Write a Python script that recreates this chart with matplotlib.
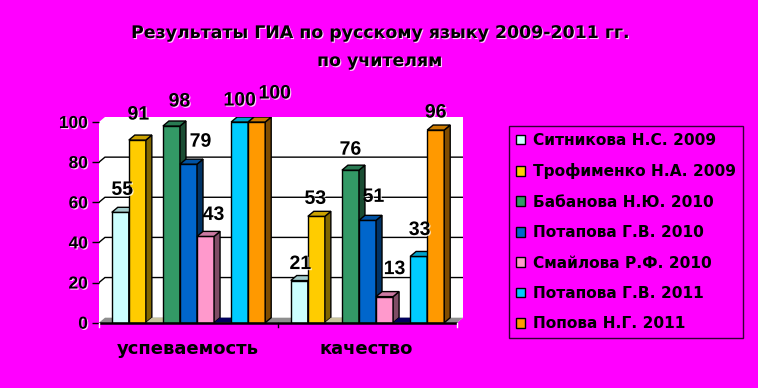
import matplotlib
matplotlib.use("Agg")
import matplotlib.pyplot as plt
from matplotlib.patches import Polygon, Patch
import matplotlib.patheffects as pe

# ---- data -------------------------------------------------------------
categories = ["успеваемость", "качество"]
series_names = [
    "Ситникова Н.С. 2009",
    "Трофименко Н.А. 2009",
    "",                        # spacer series (zero)
    "Бабанова Н.Ю. 2010",
    "Потапова Г.В. 2010",
    "Смайлова Р.Ф. 2010",
    "",                        # spacer series (zero)
    "Потапова Г.В. 2011",
    "Попова Н.Г. 2011",
]
sitnikova_2009 = [55, 21]
trofimenko_2009 = [91, 53]
spacer_a = [0, 0]
babanova_2010 = [98, 76]
potapova_2010 = [79, 51]
smailova_2010 = [43, 13]
spacer_b = [0, 0]
potapova_2011 = [100, 33]
popova_2011 = [100, 96]
y_ticks = [0, 20, 40, 60, 80, 100]

values = [sitnikova_2009, trofimenko_2009, spacer_a, babanova_2010,
          potapova_2010, smailova_2010, spacer_b, potapova_2011, popova_2011]

# ---- styles -----------------------------------------------------------
colors = ["#CCFFFF", "#FFCC00", "#C8C39C", "#339966", "#0066CC",
          "#FF99CC", "#00005E", "#00CCFF", "#FF9900"]
BG = "#FF00FF"
WIDE = "DejaVu Sans"
NUM = "Liberation Sans"

# label offsets in pixels (dx, dy) relative to the top centre of each bar
label_dx = [[2, 1, 0, 8, 12, 8, 0, 0, 18], [1, -1, 0, 0, 6, 10, 0, 1, 0]]
label_dy = [[22, 25, 0, 24, 22, 21, 0, 21, 28], [16, 17, 0, 20, 23, 27, 0, 26, 17]]

n_series = len(values)
gap = 1.5                     # gap between category groups, in bar widths
cat_w = n_series + gap
DX, DY = 0.35, 2.5            # 3-D depth offset (x in bar widths, y in value units)
x_end = cat_w * len(categories)

shadow = [pe.withSimplePatchShadow(offset=(0.8, -0.8), shadow_rgbFace="white", alpha=0.8)]

fig = plt.figure(figsize=(7.58, 3.88), dpi=100, facecolor=BG)
ax = fig.add_axes([99 / 758, 1 - 322.7 / 388, 364 / 758, 205.7 / 388])
ax.set_xlim(0, x_end + DX)
ax.set_ylim(0, 100 + DY)
ax.set_facecolor("none")
for s in ax.spines.values():
    s.set_visible(False)

# back wall (white)
wall = Polygon([(0, 0), (0, 100), (DX, 100 + DY), (x_end + DX, 100 + DY),
                (x_end + DX, DY), (x_end, 0)], closed=True,
               facecolor="white", edgecolor="none", zorder=0)
ax.add_patch(wall)
# floor
floor = Polygon([(0, 0), (x_end, 0), (x_end + DX, DY), (DX, DY)], closed=True,
                facecolor="#8E8E8E", edgecolor="none", zorder=0.5)
ax.add_patch(floor)
# gridlines on the back wall
for v in y_ticks[1:-1]:
    ax.plot([0, DX, x_end + DX], [v, v + DY, v + DY], color="black", lw=1.0, zorder=0.6,
            solid_joinstyle="miter")


def shade(c, f):
    r, g, b = matplotlib.colors.to_rgb(c)
    return (r * f, g * f, b * f)


z = 1
for ci in range(len(categories)):
    for si in range(n_series):
        v = values[si][ci]
        x0 = ci * cat_w + gap / 2 + si
        col = colors[si]
        if v > 0:
            ax.bar(x0, v, width=1.0, align="edge", color=col, edgecolor="black",
                   linewidth=1.0, zorder=z)
            side = Polygon([(x0 + 1, 0), (x0 + 1 + DX, DY), (x0 + 1 + DX, v + DY), (x0 + 1, v)],
                           closed=True, facecolor=shade(col, 0.5), edgecolor="black",
                           linewidth=1.0, zorder=z)
            ax.add_patch(side)
        top = Polygon([(x0, v), (x0 + DX, v + DY), (x0 + 1 + DX, v + DY), (x0 + 1, v)],
                      closed=True, facecolor=shade(col, 0.8) if v > 0 else col,
                      edgecolor="black" if v > 0 else "none", linewidth=1.0, zorder=z)
        ax.add_patch(top)
        z += 1
        if series_names[si]:
            ax.annotate(f"{v}", (x0 + 0.5, v),
                        xytext=(label_dx[ci][si], label_dy[ci][si]),
                        textcoords="offset pixels", ha="center", va="center",
                        fontsize=14, fontweight="bold", family=NUM,
                        color="black", zorder=100, annotation_clip=False,
                        path_effects=shadow)

# front axis line
ax.plot([0, x_end], [0, 0], color="black", lw=1.8, zorder=200, clip_on=False,
        solid_capstyle="butt")
for xt, tc in zip([0, cat_w, x_end], ["white", "black", "white"]):
    ax.plot([xt, xt], [0, -2.2], color=tc, lw=1.0, zorder=200, clip_on=False)

# y axis ticks
ax.set_yticks(y_ticks)
ax.set_yticklabels([str(t) for t in y_ticks])
ax.tick_params(axis="y", length=5, width=1, color="black", pad=3)
for lab in ax.get_yticklabels():
    lab.set_fontsize(12.5)
    lab.set_fontweight("bold")
    lab.set_family(NUM)
    lab.set_path_effects(shadow)
ax.set_xticks([])

# category labels
for ci, name in enumerate(categories):
    ax.annotate(name, (ci * cat_w + cat_w / 2 - 0.05, 0), xytext=(0, -26),
                textcoords="offset pixels", ha="center", va="center",
                fontsize=13, fontweight="bold", family=WIDE,
                annotation_clip=False)

# title
fig.text(381 / 758, 1 - 33 / 388, "Результаты ГИА по русскому языку 2009-2011 гг.",
         ha="center", va="center", fontsize=12.5, fontweight="bold",
         family=WIDE, path_effects=shadow)
fig.text(380 / 758, 1 - 61 / 388, "по учителям",
         ha="center", va="center", fontsize=12.5, fontweight="bold",
         family=WIDE, path_effects=shadow)

# legend
handles = [Patch(facecolor=colors[i], edgecolor="black", linewidth=1.0, label=series_names[i])
           for i in range(n_series) if series_names[i]]
leg = fig.legend(handles=handles, loc="upper left",
                 bbox_to_anchor=(509 / 758, 1 - 126 / 388),
                 bbox_transform=fig.transFigure,
                 prop={"family": WIDE, "weight": "bold", "size": 11.1},
                 frameon=True, fancybox=False, facecolor=BG, edgecolor="black",
                 borderaxespad=0, handlelength=0.6, handleheight=0.6,
                 handletextpad=0.5, labelspacing=1.0, borderpad=0.45)
leg.get_frame().set_linewidth(1.0)

fig.savefig("out.png", dpi=100, facecolor=BG)
